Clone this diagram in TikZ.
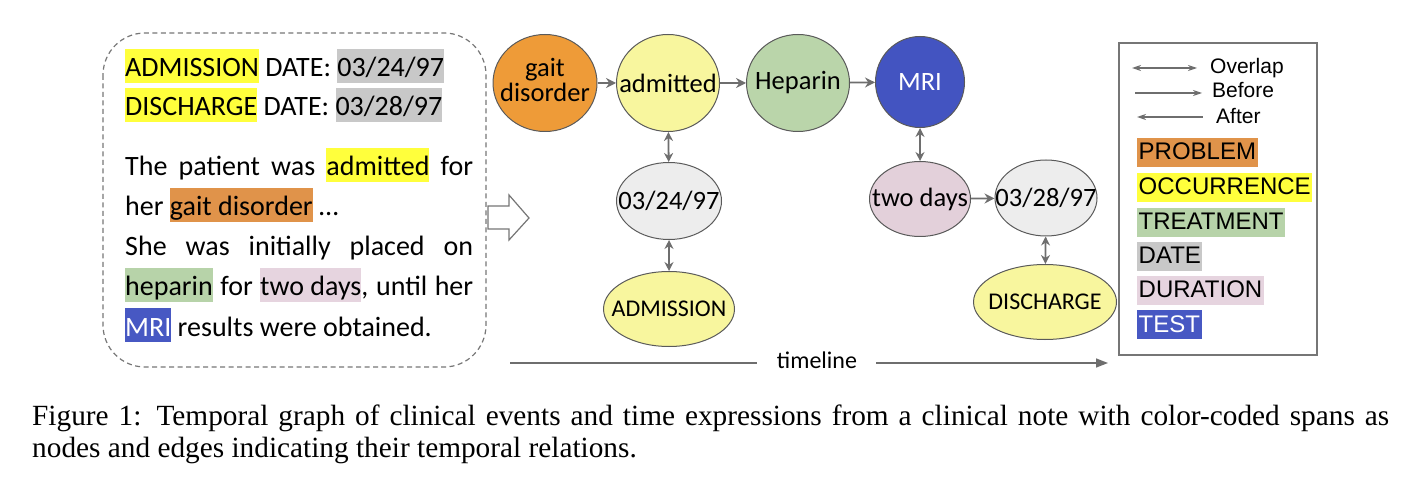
\documentclass[tikz,border=0pt]{standalone}
\usepackage{fontspec}
\setmainfont{Carlito}
\newfontfamily\arialf{Liberation Sans}
\newfontfamily\timesf{Liberation Serif}
\usetikzlibrary{shapes.geometric,arrows.meta}
\definecolor{edgegray}{HTML}{6E6E6E}
\definecolor{nodeborder}{HTML}{5A5A5A}
\definecolor{boxgray}{HTML}{767676}
\definecolor{cProbNode}{HTML}{EE9B38}
\definecolor{cOccNode}{HTML}{F8F69E}
\definecolor{cTreatNode}{HTML}{BAD5AA}
\definecolor{cTestNode}{HTML}{4354C1}
\definecolor{cDateNode}{HTML}{EDEDED}
\definecolor{cDurNode}{HTML}{E3D0DA}
\definecolor{hProb}{HTML}{E0934A}
\definecolor{hOcc}{HTML}{FFFF3C}
\definecolor{hTreat}{HTML}{B7D3A9}
\definecolor{hDate}{HTML}{C8C8C8}
\definecolor{hDur}{HTML}{E6D4DF}
\definecolor{hTest}{HTML}{4758C3}
\newcommand{\hlt}[2]{{\setlength{\fboxsep}{0pt}\colorbox{#1}{\rule[-6pt]{0pt}{34pt}#2}}}
\newcommand{\hlg}[2]{{\setlength{\fboxsep}{0pt}\colorbox{#1}{\rule[-7pt]{0pt}{29pt}\hspace{1.5pt}#2\hspace{1.5pt}}}}
\tikzset{
  gnode/.style={ellipse, draw=nodeborder, line width=1pt, inner sep=0pt,
    font=\fontsize{26.5}{28}\selectfont},
  txtline/.style={anchor=base west, inner sep=0pt, font=\fontsize{28}{34}\selectfont},
  fwd/.style={draw=edgegray, line width=1.8pt, -{Stealth[length=10pt,width=10pt]}},
  ovl/.style={draw=edgegray, line width=1.8pt, {Stealth[length=9pt,width=9pt]}-{Stealth[length=9pt,width=9pt]}},
  legarrow/.style={draw=edgegray, line width=1.2pt},
  legtext/.style={anchor=west, inner sep=0pt, font=\arialf\fontsize{21}{24}\selectfont},
  legcat/.style={anchor=base west, inner sep=0pt, font=\arialf\fontsize{24}{28}\selectfont},
  tline/.style={draw=edgegray, line width=1.5pt},
  captext/.style={anchor=base west, inner sep=0pt, font=\timesf\fontsize{29.3}{32}\selectfont},
}
\begin{document}
\begin{tikzpicture}[x=1pt,y=-1pt]
\useasboundingbox (0,0) rectangle (1420,502);
% dashed text box
\draw[draw=boxgray, line width=1.2pt, dash pattern=on 5pt off 3.5pt, rounded corners=42pt] (103,33) rectangle (486,367);
% text lines
\node[txtline] (l1) at (125,77) {\hlt{hOcc}{ADMISSION} DATE: \hlt{hDate}{03/24/97}};
\node[txtline] (l2) at (125,116) {\hlt{hOcc}{DISCHARGE} DATE: \hlt{hDate}{03/28/97}};
\node[txtline] (l3) at (125,176) {\makebox[348pt][s]{The patient was \hlt{hOcc}{admitted} for}};
\node[txtline] (l4) at (125,216) {her \hlt{hProb}{gait disorder} \ldots};
\node[txtline] (l5) at (125,256) {\makebox[348pt][s]{She was initially placed on}};
\node[txtline] (l6) at (125,296) {\makebox[348pt][s]{\hlt{hTreat}{heparin} for \hlt{hDur}{two days}, until her}};
\node[txtline] (l7) at (125,336) {\hlt{hTest}{\textcolor{white}{MRI}} results were obtained.};
% hollow arrow
\draw[draw=boxgray, line width=1.2pt, fill=white] (488,206) -- (509,206) -- (509,195) -- (529,218) -- (509,240) -- (509,229) -- (488,229) -- cycle;
% graph nodes
\node[gnode, fill=cProbNode, minimum width=104pt, minimum height=97pt] (gait) at (545,83)
  {\makebox[0pt]{\begin{tabular}{@{}c@{}}gait\\[-3pt]disorder\end{tabular}}};
\node[gnode, fill=cOccNode, minimum width=103pt, minimum height=97pt] (admitted) at (668,83) {\makebox[0pt]{admitted}};
\node[gnode, fill=cTreatNode, minimum width=103pt, minimum height=97pt] (heparin) at (798,83) {\makebox[0pt]{Heparin}};
\node[gnode, fill=cTestNode, minimum width=89pt, minimum height=91pt] (mri) at (920,82) {\makebox[0pt]{\textcolor{white}{MRI}}};
\node[gnode, fill=cDateNode, minimum width=105pt, minimum height=77pt] (d1) at (669,201) {\makebox[0pt]{03/24/97}};
\node[gnode, fill=cOccNode, minimum width=131pt, minimum height=75pt, font=\fontsize{24}{26}\selectfont] (adm) at (669,309) {\makebox[0pt]{ADMISSION}};
\node[gnode, fill=cDurNode, minimum width=101pt, minimum height=75pt] (dur) at (920,199) {\makebox[0pt]{two days}};
\node[gnode, fill=cDateNode, minimum width=102pt, minimum height=76pt] (d2) at (1046,198) {\makebox[0pt]{03/28/97}};
\node[gnode, fill=cOccNode, minimum width=143pt, minimum height=75pt, font=\fontsize{24}{26}\selectfont] (dis) at (1045,302) {\makebox[0pt]{DISCHARGE}};
% edges
\draw[fwd] (gait) -- (admitted);
\draw[fwd] (admitted) -- (heparin);
\draw[fwd] (heparin) -- (mri);
\draw[fwd] (dur) -- (d2);
\draw[ovl] (admitted) -- (d1);
\draw[ovl] (d1) -- (adm);
\draw[ovl] (mri) -- (dur);
\draw[ovl] (d2) -- (dis);
% timeline
\node[anchor=base, inner sep=0pt, font=\fontsize{24}{26}\selectfont] (tl) at (817,368) {timeline};
\coordinate (tlA) at (510,363);
\coordinate (tlB) at (1108,363);
\draw[tline] (tlA) -- ([xshift=-20pt]tlA -| tl.west);
\draw[tline, -{Triangle[length=12pt,width=9pt]}] ([xshift=19pt]tlB -| tl.east) -- (tlB);
% legend
\draw[draw=boxgray, line width=1.5pt] (1119,43) rectangle (1317,355);
\coordinate (ov0) at (1132,68); \coordinate (ov1) at (1197,68);
\coordinate (bf0) at (1135,93); \coordinate (bf1) at (1202,93);
\coordinate (af0) at (1137,117); \coordinate (af1) at (1203,117);
\draw[legarrow, {Stealth[length=9pt,width=6pt]}-{Stealth[length=9pt,width=6pt]}] (ov0) -- (ov1);
\draw[legarrow, -{Stealth[length=9pt,width=6pt]}] (bf0) -- (bf1);
\draw[legarrow, {Stealth[length=9pt,width=6pt]}-] (af0) -- (af1);
\node[legtext] (tov) at (1210,68) {Overlap};
\node[legtext] (tbf) at (1212,90) {Before};
\node[legtext] (taf) at (1216,116) {After};
\node[legcat] (cprob) at (1137,160) {\hlg{hProb}{PROBLEM}};
\node[legcat] (cocc) at (1137,195) {\hlg{hOcc}{OCCURRENCE}};
\node[legcat] (ctreat) at (1137,230) {\hlg{hTreat}{TREATMENT}};
\node[legcat] (cdate) at (1137,264) {\hlg{hDate}{DATE}};
\node[legcat] (cdur) at (1137,298) {\hlg{hDur}{DURATION}};
\node[legcat] (ctest) at (1137,332) {\hlg{hTest}{\textcolor{white}{TEST}}};
% caption
\node[captext] (cap1) at (32,425) {\makebox[1357pt][s]{Figure 1: Temporal graph of clinical events and time expressions from a clinical note with color-coded spans as}};
\node[captext] (cap2) at (32,457) {nodes and edges indicating their temporal relations.};
\end{tikzpicture}
\end{document}
